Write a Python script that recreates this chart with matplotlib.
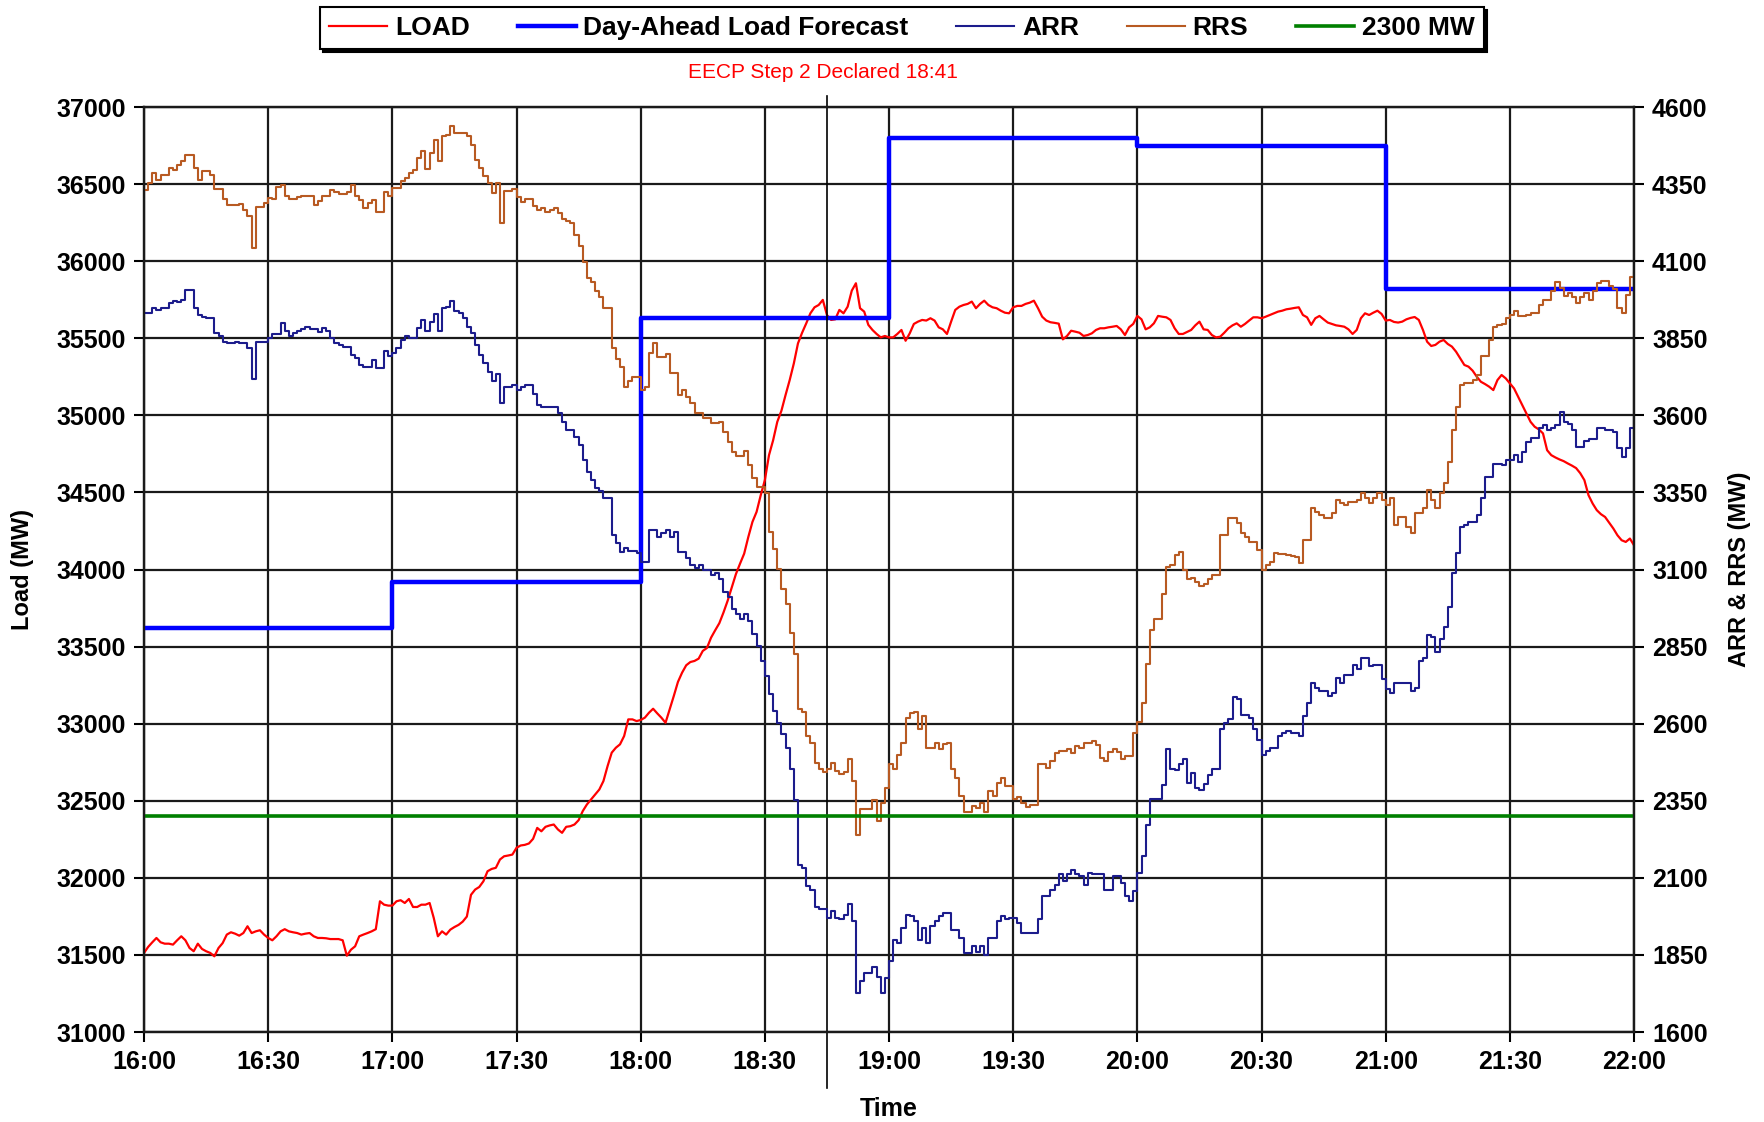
import numpy as np
import matplotlib
matplotlib.use("Agg")
import matplotlib.pyplot as plt

plt.rcParams['font.family'] = ['Liberation Sans', 'DejaVu Sans']

# minutes after 16:00, one sample per minute
minutes = np.arange(0, 361)
tick_minutes = list(range(0, 361, 30))
tick_labels = ["16:00", "16:30", "17:00", "17:30", "18:00", "18:30", "19:00",
               "19:30", "20:00", "20:30", "21:00", "21:30", "22:00"]

# day-ahead forecast, hourly blocks (MW)
forecast_edges = [0, 60, 120, 180, 240, 300, 360]
forecast = [33620, 33920, 35630, 36800, 36750, 35820]

reserve_limit = 2300
eecp_minute = 165   # where the marker line sits on the chart
eecp_text = "EECP Step 2 Declared 18:41"

load = [
    31513, 31552, 31582, 31610, 31582, 31573, 31573, 31567, 31595, 31621,
    31595, 31545, 31524, 31573, 31539, 31524, 31513, 31491, 31545, 31577,
    31632, 31647, 31638, 31625, 31642, 31686, 31642, 31653, 31660, 31632,
    31610, 31595, 31621, 31653, 31667, 31653, 31647, 31642, 31632, 31638,
    31642, 31621, 31610, 31610, 31608, 31603, 31603, 31603, 31595, 31495,
    31534, 31556, 31621, 31632, 31642, 31653, 31667, 31848, 31826, 31820,
    31820, 31848, 31855, 31837, 31863, 31811, 31811, 31826, 31826, 31837,
    31740, 31621, 31653, 31632, 31664, 31681, 31695, 31716, 31749, 31890,
    31924, 31941, 31978, 32043, 32058, 32065, 32119, 32140, 32145, 32151,
    32195, 32210, 32214, 32223, 32253, 32324, 32302, 32331, 32340, 32346,
    32314, 32292, 32331, 32335, 32346, 32374, 32433, 32476, 32508, 32541,
    32573, 32628, 32725, 32812, 32844, 32866, 32920, 33028, 33028, 33017,
    33024, 33039, 33071, 33097, 33067, 33039, 33006, 33093, 33180, 33271,
    33331, 33379, 33400, 33407, 33422, 33472, 33491, 33558, 33606, 33652,
    33721, 33797, 33883, 33970, 34038, 34103, 34211, 34309, 34374, 34482,
    34580, 34742, 34839, 34958, 35030, 35132, 35229, 35337, 35467, 35536,
    35597, 35662, 35701, 35716, 35749, 35651, 35619, 35623, 35684, 35662,
    35705, 35809, 35857, 35695, 35673, 35587, 35554, 35528, 35506, 35515,
    35506, 35506, 35528, 35554, 35484, 35532, 35593, 35608, 35619, 35615,
    35630, 35615, 35571, 35558, 35528, 35608, 35684, 35705, 35716, 35723,
    35738, 35695, 35723, 35744, 35716, 35701, 35695, 35679, 35666, 35662,
    35701, 35710, 35710, 35723, 35731, 35744, 35695, 35640, 35615, 35604,
    35600, 35595, 35493, 35515, 35549, 35543, 35536, 35515, 35521, 35532,
    35554, 35565, 35565, 35571, 35575, 35580, 35558, 35521, 35571, 35593,
    35645, 35623, 35558, 35571, 35597, 35645, 35640, 35636, 35619, 35565,
    35528, 35528, 35541, 35554, 35584, 35608, 35558, 35554, 35521, 35506,
    35510, 35536, 35565, 35584, 35597, 35575, 35593, 35615, 35636, 35636,
    35630, 35640, 35651, 35662, 35673, 35679, 35688, 35692, 35697, 35701,
    35651, 35636, 35587, 35630, 35645, 35623, 35602, 35593, 35584, 35580,
    35575, 35558, 35528, 35554, 35630, 35662, 35651, 35666, 35679, 35658,
    35615, 35619, 35606, 35602, 35608, 35623, 35632, 35638, 35619, 35554,
    35478, 35450, 35457, 35478, 35489, 35463, 35446, 35413, 35370, 35327,
    35316, 35290, 35251, 35218, 35203, 35186, 35164, 35229, 35262, 35240,
    35207, 35175, 35121, 35067, 35013, 34958, 34926, 34909, 34883, 34774,
    34742, 34727, 34714, 34703, 34688, 34674, 34658, 34625, 34580, 34482,
    34428, 34385, 34359, 34341, 34303, 34266, 34222, 34190, 34179, 34201, 34157,
]

arr = [
    3931, 3931, 3948, 3942, 3948, 3948, 3964, 3972, 3969, 3975,
    4007, 4007, 3948, 3926, 3920, 3915, 3915, 3866, 3858, 3839,
    3834, 3834, 3839, 3834, 3834, 3818, 3717, 3839, 3839, 3839,
    3850, 3864, 3864, 3899, 3872, 3856, 3866, 3872, 3879, 3888,
    3879, 3879, 3870, 3883, 3872, 3850, 3834, 3829, 3821, 3821,
    3796, 3785, 3764, 3758, 3758, 3780, 3753, 3753, 3810, 3793,
    3801, 3818, 3845, 3856, 3850, 3850, 3883, 3910, 3872, 3904,
    3929, 3872, 3948, 3953, 3972, 3940, 3931, 3915, 3886, 3866,
    3829, 3796, 3769, 3742, 3710, 3734, 3639, 3693, 3693, 3699,
    3682, 3691, 3699, 3699, 3669, 3634, 3628, 3628, 3626, 3626,
    3607, 3580, 3553, 3553, 3531, 3504, 3455, 3417, 3390, 3363,
    3356, 3331, 3331, 3212, 3185, 3158, 3169, 3161, 3161, 3152,
    3125, 3125, 3228, 3228, 3206, 3217, 3228, 3206, 3223, 3158,
    3158, 3136, 3114, 3104, 3114, 3098, 3098, 3082, 3090, 3069,
    3027, 3012, 2971, 2955, 2941, 2955, 2933, 2890, 2852, 2803,
    2755, 2695, 2641, 2603, 2565, 2522, 2452, 2354, 2143, 2133,
    2073, 2062, 2006, 1999, 1999, 1970, 1992, 1970, 1967, 1981,
    2014, 1960, 1727, 1765, 1792, 1792, 1811, 1779, 1727, 1776,
    1830, 1900, 1889, 1938, 1981, 1976, 1960, 1900, 1938, 1889,
    1943, 1960, 1976, 1987, 1987, 1932, 1932, 1905, 1857, 1857,
    1878, 1859, 1878, 1851, 1905, 1905, 1960, 1976, 1965, 1970,
    1970, 1952, 1922, 1922, 1922, 1922, 1965, 2041, 2041, 2060,
    2078, 2111, 2089, 2111, 2127, 2111, 2106, 2078, 2116, 2114,
    2114, 2114, 2060, 2060, 2106, 2106, 2084, 2041, 2024, 2057,
    2116, 2170, 2273, 2357, 2357, 2357, 2400, 2517, 2454, 2450,
    2468, 2486, 2409, 2439, 2392, 2385, 2403, 2432, 2452, 2452,
    2584, 2601, 2614, 2688, 2679, 2627, 2627, 2620, 2582, 2547,
    2497, 2511, 2522, 2522, 2560, 2571, 2576, 2571, 2571, 2560,
    2625, 2668, 2731, 2717, 2706, 2706, 2690, 2701, 2749, 2733,
    2757, 2757, 2789, 2776, 2814, 2814, 2787, 2789, 2789, 2744,
    2712, 2699, 2733, 2733, 2733, 2733, 2706, 2717, 2803, 2814,
    2887, 2882, 2833, 2876, 2912, 2977, 3088, 3152, 3237, 3245,
    3255, 3255, 3277, 3331, 3401, 3401, 3442, 3442, 3439, 3455,
    3455, 3471, 3450, 3482, 3515, 3526, 3526, 3558, 3569, 3553,
    3558, 3569, 3612, 3580, 3571, 3553, 3499, 3499, 3518, 3523,
    3523, 3558, 3558, 3553, 3553, 3545, 3493, 3466, 3493, 3558, 3590,
]

rrs = [
    4332, 4353, 4386, 4364, 4380, 4380, 4402, 4397, 4413, 4424,
    4445, 4445, 4402, 4364, 4391, 4391, 4380, 4334, 4334, 4301,
    4283, 4283, 4283, 4286, 4267, 4245, 4142, 4275, 4275, 4288,
    4305, 4301, 4342, 4348, 4312, 4301, 4301, 4308, 4310, 4312,
    4312, 4283, 4294, 4310, 4310, 4332, 4323, 4319, 4319, 4326,
    4348, 4310, 4299, 4272, 4288, 4299, 4258, 4258, 4323, 4310,
    4337, 4337, 4359, 4369, 4386, 4397, 4434, 4459, 4399, 4451,
    4494, 4424, 4505, 4510, 4537, 4516, 4516, 4516, 4505, 4478,
    4429, 4402, 4377, 4353, 4321, 4355, 4223, 4329, 4329, 4334,
    4308, 4291, 4301, 4301, 4278, 4267, 4272, 4261, 4267, 4272,
    4256, 4236, 4229, 4223, 4186, 4150, 4099, 4045, 4031, 4002,
    3985, 3948, 3948, 3818, 3782, 3758, 3693, 3712, 3726, 3726,
    3682, 3693, 3801, 3836, 3788, 3788, 3799, 3737, 3737, 3666,
    3682, 3661, 3639, 3607, 3607, 3590, 3590, 3574, 3574, 3580,
    3547, 3515, 3482, 3468, 3468, 3486, 3439, 3396, 3369, 3369,
    3347, 3223, 3165, 3101, 3036, 2987, 2895, 2825, 2647, 2638,
    2560, 2538, 2473, 2452, 2443, 2452, 2473, 2446, 2436, 2443,
    2484, 2414, 2238, 2322, 2322, 2322, 2352, 2284, 2344, 2392,
    2468, 2452, 2500, 2536, 2620, 2634, 2638, 2584, 2625, 2522,
    2522, 2538, 2517, 2533, 2536, 2452, 2425, 2365, 2313, 2313,
    2333, 2327, 2344, 2313, 2382, 2365, 2409, 2425, 2398, 2398,
    2357, 2363, 2344, 2331, 2336, 2336, 2468, 2468, 2457, 2479,
    2506, 2511, 2511, 2519, 2506, 2527, 2522, 2536, 2536, 2544,
    2530, 2490, 2479, 2508, 2519, 2508, 2486, 2495, 2495, 2571,
    2605, 2668, 2793, 2904, 2941, 2941, 3020, 3109, 3114, 3147,
    3158, 3098, 3068, 3074, 3058, 3047, 3052, 3069, 3082, 3082,
    3212, 3212, 3266, 3266, 3250, 3217, 3206, 3190, 3190, 3163,
    3098, 3114, 3125, 3152, 3150, 3150, 3147, 3144, 3141, 3120,
    3196, 3196, 3298, 3288, 3277, 3266, 3266, 3282, 3325, 3315,
    3309, 3320, 3320, 3325, 3347, 3331, 3315, 3331, 3347, 3325,
    3309, 3331, 3244, 3271, 3271, 3239, 3217, 3282, 3282, 3298,
    3358, 3325, 3298, 3347, 3380, 3450, 3553, 3628, 3699, 3706,
    3706, 3715, 3731, 3791, 3793, 3845, 3888, 3893, 3897, 3915,
    3926, 3940, 3923, 3923, 3926, 3931, 3931, 3958, 3975, 3975,
    4002, 4034, 4012, 3988, 3996, 3983, 3964, 3983, 3998, 3975,
    4002, 4029, 4037, 4037, 4018, 4009, 3948, 3931, 3991, 4050, 4061,
]

fig = plt.figure(figsize=(17.65, 11.22), dpi=100)
ax = fig.add_axes([0.0816, 0.0802, 0.8442, 0.8244])
ax2 = ax.twinx()

tick_font = dict(fontsize=18, fontweight='bold')

ax.set_xlim(0, 360)
ax.set_ylim(31000, 37000)
ax2.set_ylim(1600, 4600)
ax.set_xticks(tick_minutes)
ax.set_xticklabels(tick_labels, **tick_font)
ax.set_yticks(range(31000, 37001, 500))
ax.set_yticklabels([str(v) for v in range(31000, 37001, 500)], **tick_font)
ax2.set_yticks(range(1600, 4601, 250))
ax2.set_yticklabels([str(v) for v in range(1600, 4601, 250)], **tick_font)

ax.grid(True, color='#1a1a1a', lw=1.6)
ax.set_axisbelow(True)
ax.tick_params(direction='out', length=7, width=1.5, pad=6, colors='black')
ax2.tick_params(direction='out', length=7, width=1.5, pad=6, colors='black')
for a in (ax, ax2):
    for s in a.spines.values():
        s.set_linewidth(1.6)
        s.set_color('#1a1a1a')

# series
fc_x = forecast_edges
fc_y = forecast + [forecast[-1]]
l_load, = ax.plot(minutes, load, color='#ff0000', lw=1.6, label='LOAD', zorder=3)
l_fc, = ax.step(fc_x, fc_y, where='post', color='#0000ff', lw=3.2,
                label='Day-Ahead Load Forecast', zorder=4)
l_arr, = ax2.plot(minutes, arr, drawstyle='steps-post', color='#1c1c8c', lw=1.5, label='ARR')
l_rrs, = ax2.plot(minutes, rrs, drawstyle='steps-post', color='#b85a22', lw=1.5, label='RRS')
l_lim = ax2.axhline(reserve_limit, color='#008000', lw=2.6, label='2300 MW')

# EECP marker line and note
ax.plot([eecp_minute, eecp_minute], [-0.06, 1.012], color='black', lw=1.2,
        transform=ax.get_xaxis_transform(), clip_on=False, zorder=5)
fig.text(0.466, 0.935, eecp_text, color='#ff0000', fontsize=15,
         ha='center', va='center')

ax.set_ylabel('Load (MW)', fontsize=17, fontweight='bold')
ax.yaxis.set_label_coords(-0.074, 0.5)
ax2.set_ylabel('ARR & RRS (MW)', fontsize=17, fontweight='bold')
ax2.yaxis.set_label_coords(1.063, 0.5)
ax.set_xlabel('Time', fontsize=18, fontweight='bold')
ax.xaxis.set_label_coords(0.5, -0.07)

handles = [l_load, l_fc, l_arr, l_rrs, l_lim]
leg = fig.legend(handles, [h.get_label() for h in handles], loc='center',
                 bbox_to_anchor=(0.511, 0.975), ncol=5, fancybox=False,
                 edgecolor='black', framealpha=1, borderpad=0.35,
                 handlelength=2.2, handletextpad=0.3, columnspacing=1.8,
                 prop={'weight': 'bold', 'size': 19},
                 shadow={'color': 'black', 'alpha': 1})
leg.get_frame().set_linewidth(1.5)

fig.savefig('out.png', dpi=100)
